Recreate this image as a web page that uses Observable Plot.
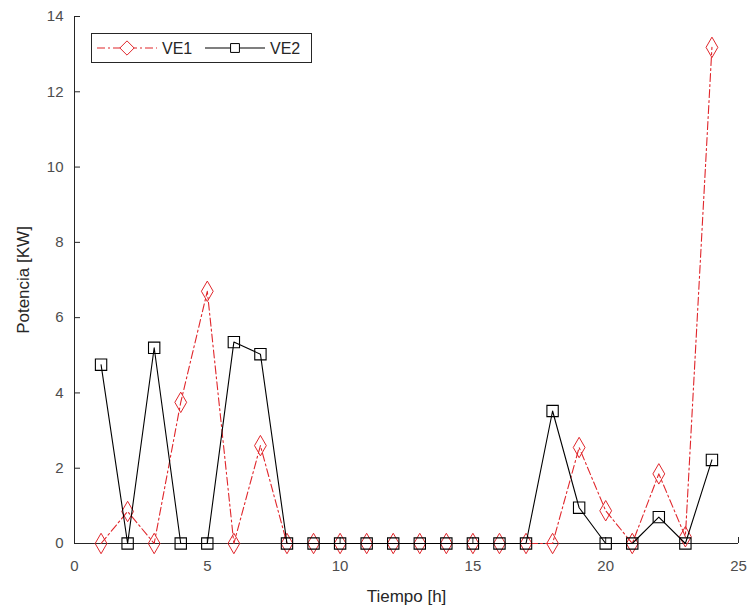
<!DOCTYPE html>
<html>
<head>
<meta charset="utf-8">
<script src="https://cdn.jsdelivr.net/npm/d3@7"></script>
<script src="https://cdn.jsdelivr.net/npm/@observablehq/plot@0.6"></script>
<style>
  body { margin: 0; background: #fff; }
  #chart { position: relative; width: 755px; height: 614px; font-family: "Liberation Sans", Arial, sans-serif; }
  #legend { position: absolute; left: 91px; top: 33px; }
</style>
</head>
<body>
<div id="chart"></div>
<script>
// Hourly charging power of two electric vehicles
const hours = [1, 2, 3, 4, 5, 6, 7, 8, 9, 10, 11, 12, 13, 14, 15, 16, 17, 18, 19, 20, 21, 22, 23, 24];
const ve1 = [0, 0.85, 0, 3.75, 6.7, 0, 2.6, 0, 0, 0, 0, 0, 0, 0, 0, 0, 0, 0, 2.55, 0.87, 0, 1.85, 0.18, 13.18];
const ve2 = [4.75, 0, 5.2, 0, 0, 5.35, 5.03, 0, 0, 0, 0, 0, 0, 0, 0, 0, 0, 3.52, 0.95, 0, 0, 0.7, 0, 2.22];
const seriesNames = ["VE1", "VE2"];
const xTicks = [0, 5, 10, 15, 20, 25];
const yTicks = [0, 2, 4, 6, 8, 10, 12, 14];

const red = "#e0262b";
const ink = "#262626";
const tickText = "#4d4d4d";

const rows1 = hours.map((h, i) => ({hour: h, power: ve1[i]}));
const rows2 = hours.map((h, i) => ({hour: h, power: ve2[i]}));

const chart = Plot.plot({
  width: 755,
  height: 614,
  marginLeft: 74,
  marginRight: 17,
  marginTop: 16,
  marginBottom: 71,
  style: {fontFamily: "'Liberation Sans', Arial, sans-serif", fontSize: "14px", color: ink, background: "#fff"},
  x: {domain: [0, 25]},
  y: {domain: [0, 14]},
  marks: [
    Plot.ruleY([0], {stroke: ink, strokeWidth: 1}),
    Plot.ruleX([0], {stroke: ink, strokeWidth: 1}),
    // negative tick size draws the tick marks inward
    Plot.axisX({ticks: xTicks, tickSize: -6, tickPadding: 23, stroke: ink, strokeWidth: 1, fill: tickText, fontSize: 15,
      label: "Tiempo [h]", labelAnchor: "center", labelOffset: 58, labelArrow: "none"}),
    Plot.axisY({ticks: yTicks, tickSize: -6, tickPadding: 17, stroke: ink, strokeWidth: 1, fill: tickText, fontSize: 15,
      label: "Potencia [KW]", labelAnchor: "center", labelOffset: 58, labelArrow: "none"}),
    Plot.line(rows1, {x: "hour", y: "power", stroke: red, strokeWidth: 1.1, strokeDasharray: "8,3,2,3"}),
    Plot.dot(rows1, {x: "hour", y: "power", symbol: "diamond", r: 6.2, stroke: red, fill: "none", strokeWidth: 1}),
    Plot.line(rows2, {x: "hour", y: "power", stroke: "#000", strokeWidth: 1.1}),
    Plot.dot(rows2, {x: "hour", y: "power", symbol: "square", r: 6.4, stroke: "#000", fill: "none", strokeWidth: 1.1})
  ]
});

// Axis titles a bit larger than tick labels
chart.querySelectorAll("[aria-label$='axis label'] text").forEach(t => {
  t.setAttribute("font-size", 17);
  t.setAttribute("fill", ink);
});

const root = document.getElementById("chart");
root.appendChild(chart);

// Legend box drawn inside the plot area
const lg = d3.select(root).append("svg")
  .attr("id", "legend")
  .attr("width", 222)
  .attr("height", 31)
  .style("font-family", "'Liberation Sans', Arial, sans-serif");
lg.append("rect").attr("x", 0.5).attr("y", 0.5).attr("width", 220).attr("height", 29)
  .attr("fill", "#fff").attr("stroke", ink);
const items = [
  {name: seriesNames[0], color: red, dash: "8,3,2,3", symbol: d3.symbolDiamond2, size: 130, x0: 6},
  {name: seriesNames[1], color: "#000", dash: null, symbol: d3.symbolSquare2, size: 100, x0: 114}
];
items.forEach(it => {
  const g = lg.append("g").attr("transform", `translate(${it.x0},15)`);
  g.append("line").attr("x1", 0).attr("x2", 60).attr("y1", 0).attr("y2", 0)
    .attr("stroke", it.color).attr("stroke-width", 1.1).attr("stroke-dasharray", it.dash);
  g.append("path").attr("d", d3.symbol(it.symbol, it.size)()).attr("transform", "translate(30,0)")
    .attr("fill", "#fff").attr("stroke", it.color);
  g.append("text").attr("x", 65).attr("y", 6).attr("font-size", 16).attr("fill", ink).text(it.name);
});
</script>
</body>
</html>
